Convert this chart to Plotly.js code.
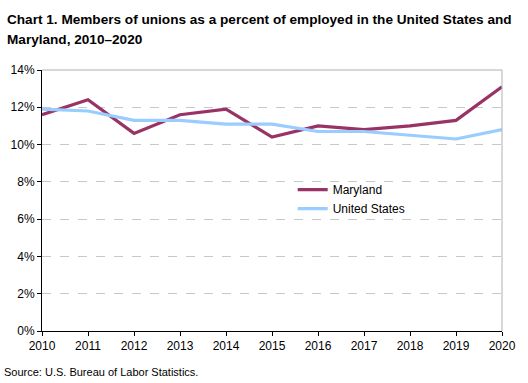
<!DOCTYPE html>
<html>
<head>
<meta charset="utf-8">
<script src="https://cdn.plot.ly/plotly-3.0.1.min.js"></script>
<style>
html,body{margin:0;padding:0;background:#fff;}
#chart{width:528px;height:383px;}
</style>
</head>
<body>
<div id="chart"></div>
<script>
const years = ['2010','2011','2012','2013','2014','2015','2016','2017','2018','2019','2020'];
const maryland = [11.6, 12.4, 10.6, 11.6, 11.9, 10.4, 11.0, 10.8, 11.0, 11.3, 13.1];
const unitedStates = [11.9, 11.8, 11.3, 11.3, 11.1, 11.1, 10.7, 10.7, 10.5, 10.3, 10.8];
const yTickVals = [0, 2, 4, 6, 8, 10, 12, 14];
const yTickText = ['0%', '2%', '4%', '6%', '8%', '10%', '12%', '14%'];
const titleLines = ['Chart 1. Members of unions as a percent of employed in the United States and',
                    'Maryland, 2010\u20132020'];

const font = 'Liberation Sans, Arial, sans-serif';

const traces = [
  {x: years, y: maryland, name: 'Maryland', type: 'scatter', mode: 'lines',
   line: {color: '#993366', width: 3.2}},
  {x: years, y: unitedStates, name: 'United States', type: 'scatter', mode: 'lines',
   line: {color: '#99CCFF', width: 3.2}}
];

const layout = {
  width: 528, height: 383,
  margin: {l: 42, r: 26, t: 70, b: 52},
  paper_bgcolor: '#fff', plot_bgcolor: '#fff',
  font: {family: font, size: 12, color: '#000'},
  xaxis: {
    type: 'category', range: [0, 10],
    showline: true, linecolor: '#000', linewidth: 1,
    ticks: 'outside', ticklen: 4, tickcolor: '#000',
    showgrid: false, zeroline: false,
    tickfont: {family: font, size: 12, color: '#000'}
  },
  yaxis: {
    range: [0, 14], tickvals: yTickVals, ticktext: yTickText,
    showline: true, linecolor: '#000', linewidth: 1,
    ticks: 'outside', ticklen: 4, tickcolor: '#000',
    showgrid: true, gridcolor: '#c8c8c8', griddash: 'dash', gridwidth: 1,
    zeroline: false,
    tickfont: {family: font, size: 12, color: '#000'}
  },
  showlegend: true,
  legend: {
    x: 0.545, y: 0.597, xanchor: 'left', yanchor: 'top',
    bgcolor: 'rgba(0,0,0,0)', borderwidth: 0,
    font: {family: font, size: 12, color: '#000'},
    tracegroupgap: 0, itemwidth: 30
  },
  shapes: [
    {type: 'line', xref: 'paper', yref: 'paper', x0: 0, x1: 1, y0: 1, y1: 1,
     line: {color: '#b0b0b0', width: 1}},
    {type: 'line', xref: 'paper', yref: 'paper', x0: 1, x1: 1, y0: 0, y1: 1,
     line: {color: '#b0b0b0', width: 1}}
  ],
  annotations: [
    {text: '<b>' + titleLines[0] + '</b>', xref: 'paper', yref: 'paper',
     x: -0.08, y: (331 - 20) / 261, xanchor: 'left', yanchor: 'middle', showarrow: false,
     font: {family: font, size: 13.6, color: '#000'}},
    {text: '<b>' + titleLines[1] + '</b>', xref: 'paper', yref: 'paper',
     x: -0.08, y: (331 - 40) / 261, xanchor: 'left', yanchor: 'middle', showarrow: false,
     font: {family: font, size: 13.6, color: '#000'}},
    {text: 'Source: U.S. Bureau of Labor Statistics.', xref: 'paper', yref: 'paper',
     x: -0.087, y: (331 - 372) / 261, xanchor: 'left', yanchor: 'middle', showarrow: false,
     font: {family: font, size: 11, color: '#000'}}
  ]
};

Plotly.newPlot('chart', traces, layout, {displayModeBar: false, staticPlot: true});
</script>
</body>
</html>
